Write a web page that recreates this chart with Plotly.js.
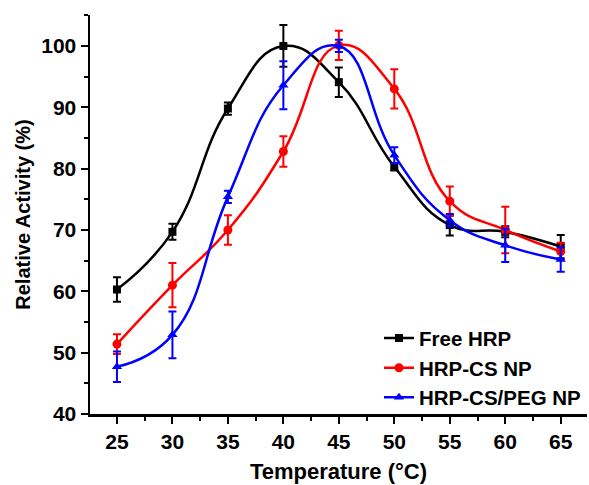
<!DOCTYPE html>
<html>
<head>
<meta charset="utf-8">
<script src="https://cdn.plot.ly/plotly-3.0.1.min.js"></script>
<style>html,body{margin:0;padding:0;background:#fff;}#chart{width:589px;height:485px;}</style>
</head>
<body>
<div id="chart"></div>
<script>
const temperature = [25, 30, 35, 40, 45, 50, 55, 60, 65];

const freeHRP = [60.3, 69.7, 89.8, 100.0, 94.1, 80.3, 70.8, 69.7, 67.3];
const freeHRPErr = [2.0, 1.3, 1.0, 3.4, 2.4, 0.6, 1.7, 0.9, 1.9];

const csNP = [51.4, 61.0, 70.0, 82.8, 100.1, 93.0, 74.7, 70.0, 66.5];
const csNPErr = [1.6, 3.6, 2.4, 2.5, 2.4, 3.2, 2.4, 3.8, 1.4];

const pegNP = [47.7, 52.9, 75.4, 93.6, 100.0, 82.2, 71.6, 67.5, 65.2];
const pegNPErr = [2.5, 3.8, 1.0, 3.9, 1.0, 1.3, 1.0, 2.7, 2.0];

const seriesNames = ['Free HRP', 'HRP-CS NP', 'HRP-CS/PEG NP'];
const xTickVals = [25, 30, 35, 40, 45, 50, 55, 60, 65];
const yTickVals = [40, 50, 60, 70, 80, 90, 100];

function makeTrace(name, y, err, color, symbol, size) {
  return {
    x: temperature, y: y, name: name, type: 'scatter', mode: 'lines+markers',
    line: {color: color, width: 2.5, shape: 'spline', smoothing: 1.3},
    marker: {color: color, symbol: symbol, size: size},
    error_y: {type: 'data', array: err, visible: true, color: color, thickness: 2, width: 4}
  };
}

const data = [
  makeTrace(seriesNames[0], freeHRP, freeHRPErr, '#000000', 'square', 8),
  makeTrace(seriesNames[1], csNP, csNPErr, '#ff0000', 'circle', 9),
  makeTrace(seriesNames[2], pegNP, pegNPErr, '#0000ff', 'triangle-up', 9)
];

const fontFam = '"Liberation Sans", Arial, sans-serif';

const layout = {
  width: 589, height: 485,
  margin: {l: 90, r: 2, t: 15, b: 71},
  paper_bgcolor: '#fff', plot_bgcolor: '#fff',
  font: {family: fontFam, color: '#000'},
  showlegend: true,
  legend: {
    x: 0.5815, y: 0.24, xanchor: 'left', yanchor: 'top',
    font: {family: fontFam, size: 20.5, weight: 'bold', color: '#000'},
    bgcolor: 'rgba(0,0,0,0)', tracegroupgap: 0
  },
  xaxis: {
    range: [22.57, 67.37], showgrid: false, zeroline: false,
    showline: true, linecolor: '#000', linewidth: 2.5, mirror: false,
    tickmode: 'array', tickvals: xTickVals,
    ticks: 'outside', ticklen: 7, tickwidth: 2, tickcolor: '#000',
    tickfont: {family: fontFam, size: 21, weight: 'bold', color: '#000'},
    minor: {dtick: 2.5, tick0: 22.5, ticks: 'outside', ticklen: 4, tickwidth: 2, tickcolor: '#000', showgrid: false},
    title: {text: '<b>Temperature (°C)</b>', font: {family: fontFam, size: 22, color: '#000'}, standoff: 12}
  },
  yaxis: {
    range: [40, 105.05], showgrid: false, zeroline: false,
    showline: true, linecolor: '#000', linewidth: 2.5, mirror: false,
    tickmode: 'array', tickvals: yTickVals,
    ticks: 'outside', ticklen: 7, tickwidth: 2, tickcolor: '#000',
    tickfont: {family: fontFam, size: 21, weight: 'bold', color: '#000'},
    minor: {dtick: 5, tick0: 40, ticks: 'outside', ticklen: 4, tickwidth: 2, tickcolor: '#000', showgrid: false},
    title: {text: '<b>Relative Activity (%)</b>', font: {family: fontFam, size: 20, color: '#000'}, standoff: 6}
  }
};

Plotly.newPlot('chart', data, layout, {displayModeBar: false, staticPlot: true});
</script>
</body>
</html>
